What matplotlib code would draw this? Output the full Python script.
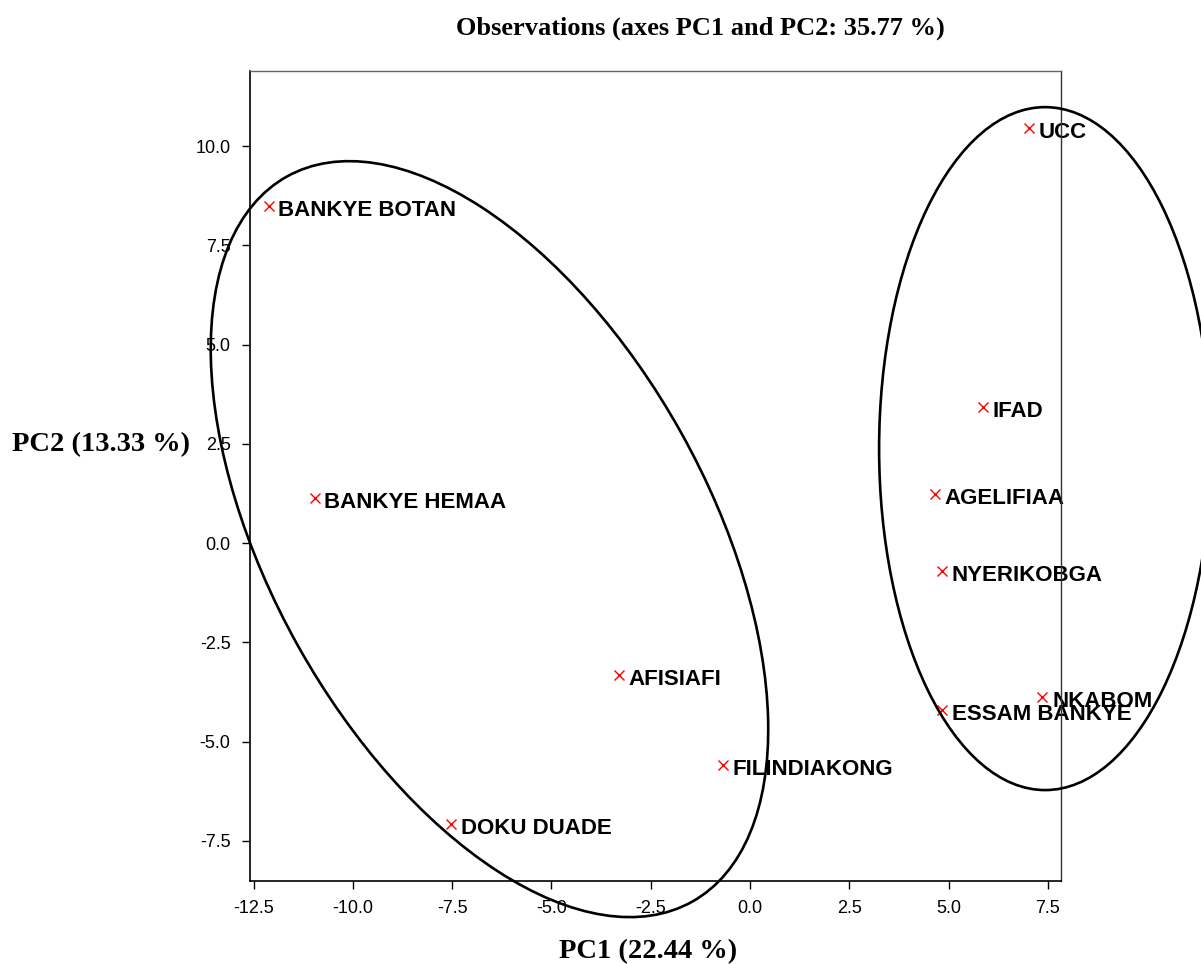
import numpy as np
import matplotlib
matplotlib.use("Agg")
import matplotlib.pyplot as plt
from matplotlib.patches import Ellipse

# observation scores on the first two components
names = ["BANKYE BOTAN", "BANKYE HEMAA", "AFISIAFI", "FILINDIAKONG", "DOKU DUADE",
         "UCC", "IFAD", "AGELIFIAA", "NYERIKOBGA", "NKABOM", "ESSAM BANKYE"]
pc1 = [-12.12, -10.96, -3.30, -0.68, -7.53, 7.03, 5.87, 4.66, 4.84, 7.36, 4.84]
pc2 = [8.49, 1.13, -3.32, -5.59, -7.08, 10.45, 3.43, 1.23, -0.71, -3.88, -4.21]

# group ellipses: centre x, centre y, width, height, angle
ell_cx = [-6.56, 7.43]
ell_cy = [0.10, 2.38]
ell_w = [20.92, 8.36]
ell_h = [11.04, 17.20]
ell_ang = [119.2, 0.0]

xticks = [-12.5, -10.0, -7.5, -5.0, -2.5, 0.0, 2.5, 5.0, 7.5]
yticks = [-7.5, -5.0, -2.5, 0.0, 2.5, 5.0, 7.5, 10.0]

sans = "Liberation Sans"
serif = "Liberation Serif"

fig = plt.figure(figsize=(12.01, 9.64), dpi=100)
ax = fig.add_axes([250 / 1201, 1 - 881 / 964, 811 / 1201, 810 / 964])

ax.plot(pc1, pc2, linestyle="none", marker="x", color="red", markersize=7, markeredgewidth=1.0, zorder=3)
for n, x, y in zip(names, pc1, pc2):
    ax.annotate(n, (x, y), xytext=(7, -3), textcoords="offset points", ha="left", va="center",
                fontsize=16, fontweight="bold", family=sans, zorder=2)

for cx, cy, w, h, a in zip(ell_cx, ell_cy, ell_w, ell_h, ell_ang):
    e = Ellipse((cx, cy), w, h, angle=a, fill=False, edgecolor="black", linewidth=1.9, clip_on=False, zorder=4)
    ax.add_patch(e)

ax.set_xlim(-12.59, 7.83)
ax.set_ylim(-8.51, 11.89)
ax.set_xticks(xticks)
ax.set_yticks(yticks)
ax.set_xticklabels([f"{v:.1f}" for v in xticks], family=sans, fontsize=13)
ax.set_yticklabels([f"{v:.1f}" for v in yticks], family=sans, fontsize=13)
ax.tick_params(direction="out", length=6, width=1, pad=8, top=False, right=False)

ax.spines["left"].set_linewidth(1.2)
ax.spines["bottom"].set_linewidth(1.2)
ax.spines["top"].set_color("#666666")
ax.spines["right"].set_color("#333333")
ax.spines["top"].set_linewidth(1.0)
ax.spines["right"].set_linewidth(1.0)

fig.text(700 / 1201, 1 - 28 / 964, "Observations (axes PC1 and PC2: 35.77 %)", ha="center", va="center",
         fontsize=19, fontweight="bold", family=serif)
fig.text(648 / 1201, 1 - 952 / 964, "PC1 (22.44 %)", ha="center", va="center",
         fontsize=20.5, fontweight="bold", family=serif)
fig.text(12 / 1201, 1 - 445 / 964, "PC2 (13.33 %)", ha="left", va="center",
         fontsize=20.5, fontweight="bold", family=serif)

fig.savefig("out.png", dpi=100)
